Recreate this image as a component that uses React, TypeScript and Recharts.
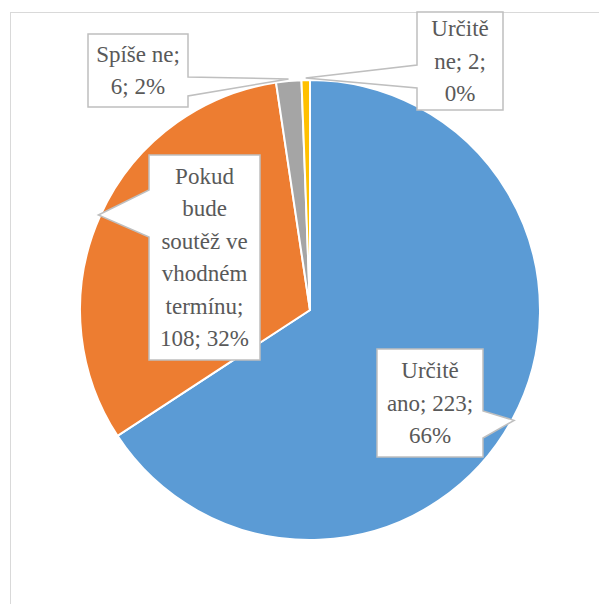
import React from "react";
import { PieChart, Pie, Cell } from "recharts";

const categories = ["Určitě ano", "Pokud bude soutěž ve vhodném termínu", "Spíše ne", "Určitě ne"];
const counts = [223, 108, 6, 2];
const percentLabels = ["66%", "32%", "2%", "0%"];
const colors = ["#5B9BD5", "#ED7D31", "#A5A5A5", "#FFC000"];

const data = categories.map((name, i) => ({ name, value: counts[i], pct: percentLabels[i] }));

const FONT = "'Liberation Serif', 'Times New Roman'";
const FONT_SIZE = 23;
const LINE_H = 32.5;
const RADIAN = Math.PI / 180;

// callout boxes, relative to the pie centre
const callouts = [
  { x: 67, y: 39, w: 106, h: 108, side: "right", p1: 101, p2: 128 },
  { x: -161, y: -155, w: 111, h: 205, side: "left", p1: -120, p2: -73 },
  { x: -222, y: -276, w: 100, h: 73, side: "right", p1: -233, p2: -214 },
  { x: 107, y: -298, w: 86, h: 98, side: "left", p1: -245, p2: -222 },
];

let ctx: CanvasRenderingContext2D | null = null;
function measure(s: string) {
  if (!ctx) {
    ctx = document.createElement("canvas").getContext("2d");
    if (ctx) ctx.font = `${FONT_SIZE}px ${FONT}`;
  }
  return ctx ? ctx.measureText(s).width : s.length * FONT_SIZE * 0.45;
}

function wrap(text: string, maxW: number) {
  const words = text.split(" ");
  const lines: string[] = [];
  let cur = "";
  words.forEach((w) => {
    const t = cur ? cur + " " + w : w;
    if (cur && measure(t) > maxW) {
      lines.push(cur);
      cur = w;
    } else cur = t;
  });
  if (cur) lines.push(cur);
  return lines;
}

function Callout(props: any) {
  const { cx, cy, midAngle, outerRadius, index, name, value, payload } = props;
  const c = callouts[index];
  const r = outerRadius + 2;
  const tx = cx + r * Math.cos(-midAngle * RADIAN);
  const ty = cy + r * Math.sin(-midAngle * RADIAN);
  const x = cx + c.x;
  const y = cy + c.y;
  const x2 = x + c.w;
  const y2 = y + c.h;
  const p1 = cy + c.p1;
  const p2 = cy + c.p2;
  const d =
    c.side === "right"
      ? `M${x},${y} H${x2} V${p1} L${tx},${ty} L${x2},${p2} V${y2} H${x} Z`
      : `M${x},${y} H${x2} V${y2} H${x} V${p2} L${tx},${ty} L${x},${p1} Z`;
  const lines = wrap(`${name}; ${value}; ${payload.pct}`, c.w - 14);
  const midX = x + c.w / 2;
  const startY = y + c.h / 2 - ((lines.length - 1) * LINE_H) / 2;
  return (
    <g>
      <path d={d} fill="#ffffff" stroke="#bfbfbf" strokeWidth={1.5} />
      <text
        textAnchor="middle"
        fill="#595959"
        style={{ fontFamily: FONT, fontSize: FONT_SIZE }}
      >
        {lines.map((l, i) => (
          <tspan key={i} x={midX} y={startY + i * LINE_H} dy="0.33em">
            {l}
          </tspan>
        ))}
      </text>
    </g>
  );
}

export default function App() {
  return (
    <div style={{ position: "absolute", left: 0, top: 0, width: 599, height: 604, overflow: "hidden", background: "#fff" }}>
      <div
        style={{
          position: "absolute",
          left: 10,
          top: 12,
          width: 700,
          height: 700,
          borderLeft: "1.5px solid #d9d9d9",
          borderTop: "1.5px solid #d9d9d9",
        }}
      />
      <div style={{ position: "absolute", left: 0, top: 0 }}>
        <PieChart width={599} height={604} margin={{ top: 0, right: 0, bottom: 0, left: 0 }}>
          <Pie
            data={data}
            dataKey="value"
            nameKey="name"
            cx={310}
            cy={310}
            outerRadius={230}
            startAngle={90}
            endAngle={-270}
            stroke="#ffffff"
            strokeWidth={2}
            labelLine={false}
            label={Callout}
            isAnimationActive={false}
          >
            {data.map((d, i) => (
              <Cell key={d.name} fill={colors[i]} />
            ))}
          </Pie>
        </PieChart>
      </div>
    </div>
  );
}
